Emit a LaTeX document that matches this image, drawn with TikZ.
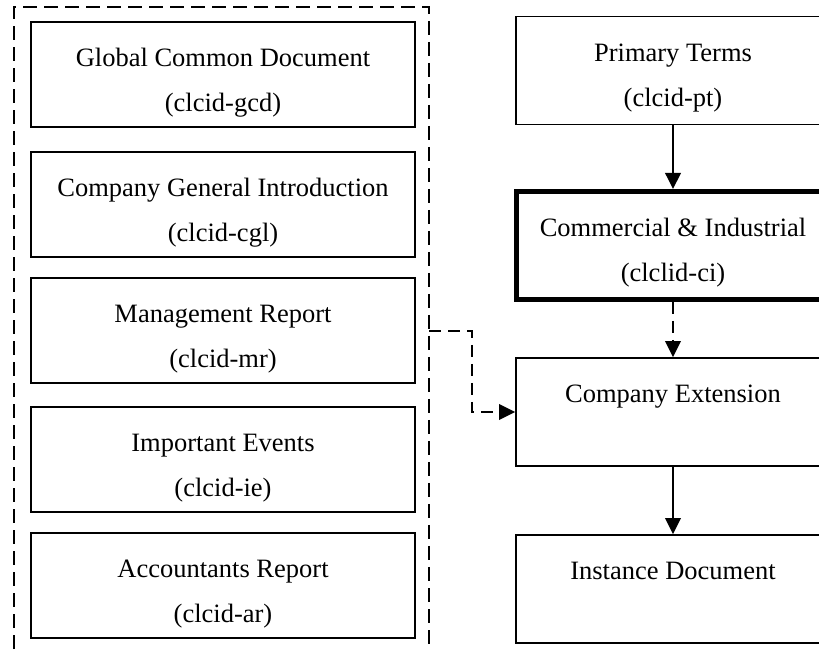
\documentclass[tikz,border=0pt]{standalone}
\usepackage{fontspec}
\setmainfont{Liberation Serif}
\usetikzlibrary{arrows.meta}

\begin{document}
\begin{tikzpicture}[
    x=0.5pt, y=-0.5pt,
    doc/.style={draw=black, line width=0.9pt, align=center, inner sep=0pt,
        font=\fontsize{13.25}{22.5}\selectfont, text height=45pt},
    part/.style={doc, minimum width=192pt, minimum height=52.5pt, text depth=7.5pt},
    layer/.style={doc, minimum width=157pt, minimum height=54pt, text depth=9pt},
    oneline/.style={text height=22.5pt, text depth=31.5pt},
    arrow/.style={-{Triangle[length=8pt,width=7.75pt]}, line width=1pt},
    optional/.style={arrow, dash pattern=on 6pt off 3.5pt},
    group/.style={draw=black, line width=1pt, dash pattern=on 7pt off 3.5pt}
]
\path[use as bounding box, clip] (0,0) rectangle (819,651);

% Common parts
\draw[group] (14,670) -- (14,7) -- (429,7) -- (429,670);
\coordinate (grpout) at (429,331);

\node[part] (gcd) at (223,74.5) {Global Common Document\\(clcid-gcd)};
\node[part] (cgl) at (223,204.5) {Company General Introduction\\(clcid-cgl)};
\node[part] (mr) at (223,330.5) {Management Report\\(clcid-mr)};
\node[part] (ie) at (223,459.5) {Important Events\\(clcid-ie)};
\node[part] (ar) at (223,585.5) {Accountants Report\\(clcid-ar)};

% Taxonomy layers
\node[layer] (pt) at (673,70.5) {Primary Terms\\(clcid-pt)};
\node[layer, line width=2.5pt] (ci) at (673,245.5) {Commercial \& Industrial\\(clclid-ci)};
\node[layer, oneline] (ce) at (673,412) {Company Extension};
\node[layer, oneline] (inst) at (673,589) {Instance Document};

\draw[arrow] (pt) -- (ci);
\draw[optional] (ci) -- (ce);
\draw[arrow] (ce) -- (inst);

% Link from the common parts
\draw[optional] (grpout) -- ++(43,0) |- (ce.west);

\end{tikzpicture}
\end{document}
